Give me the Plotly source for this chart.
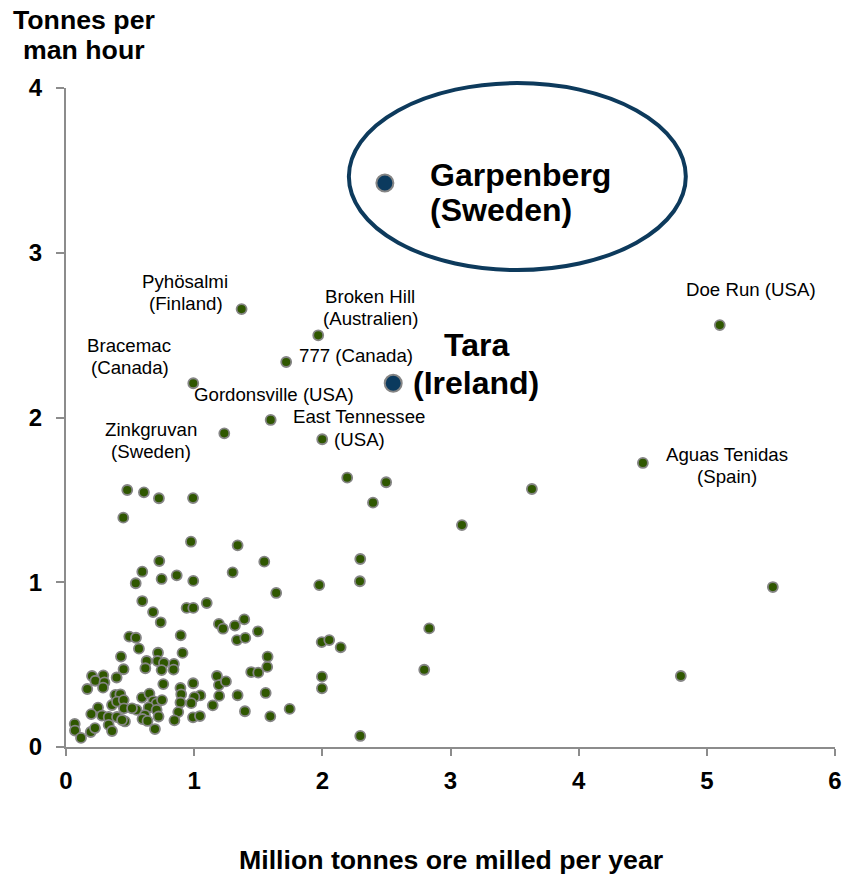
import plotly.graph_objects as go

# ---------------- data ----------------
# unlabelled mines: million tonnes ore milled per year (x) and tonnes per man hour (y)
other_x = [0.478, 0.608, 0.725, 0.991, 0.447, 0.975, 1.339, 0.728, 0.595, 0.544,
           0.746, 0.864, 0.993, 1.300, 0.595, 1.098, 0.941, 0.993, 0.679, 0.739,
           1.193, 1.225, 1.318, 1.391, 1.498, 1.334, 1.399, 0.494, 0.546, 0.895,
           0.569, 0.718, 0.909, 0.429, 0.629, 0.714, 0.764, 0.842, 0.619, 0.746,
           0.839, 0.449, 0.203, 0.291, 0.395, 0.229, 0.300, 0.166, 0.289, 0.759,
           0.992, 1.178, 1.193, 1.248, 0.893, 0.899, 1.048, 1.002, 0.893, 0.977,
           1.195, 1.145, 1.339, 0.593, 0.651, 0.681, 0.707, 0.749, 0.645, 0.707,
           0.722, 0.876, 0.846, 0.991, 1.045, 0.694, 0.551, 0.616, 0.597, 0.636,
           0.460, 0.385, 0.424, 0.359, 0.398, 0.450, 0.452, 0.515, 0.250, 0.197,
           0.281, 0.333, 0.398, 0.437, 0.333, 0.359, 0.068, 0.070, 0.117, 0.193,
           0.226, 1.547, 1.640, 1.976, 2.296, 2.293, 2.194, 2.498, 2.395, 1.995,
           2.054, 2.143, 1.573, 1.570, 1.445, 1.500, 1.997, 1.997, 1.558, 1.396,
           1.594, 1.745, 2.296, 2.795, 2.834, 3.635, 3.089, 5.515, 4.797]
other_y = [1.560, 1.546, 1.510, 1.511, 1.392, 1.246, 1.224, 1.129, 1.064, 0.994,
           1.020, 1.042, 1.008, 1.060, 0.886, 0.874, 0.844, 0.844, 0.819, 0.757,
           0.747, 0.718, 0.737, 0.775, 0.702, 0.649, 0.662, 0.670, 0.663, 0.678,
           0.597, 0.572, 0.571, 0.549, 0.522, 0.522, 0.510, 0.504, 0.478, 0.467,
           0.470, 0.472, 0.431, 0.435, 0.422, 0.402, 0.392, 0.352, 0.360, 0.382,
           0.387, 0.431, 0.376, 0.398, 0.358, 0.320, 0.313, 0.303, 0.270, 0.266,
           0.310, 0.253, 0.314, 0.300, 0.324, 0.279, 0.265, 0.285, 0.240, 0.225,
           0.185, 0.212, 0.162, 0.180, 0.188, 0.109, 0.225, 0.194, 0.170, 0.158,
           0.155, 0.316, 0.320, 0.255, 0.275, 0.285, 0.235, 0.235, 0.239, 0.200,
           0.191, 0.182, 0.182, 0.164, 0.134, 0.097, 0.140, 0.100, 0.055, 0.091,
           0.115, 1.125, 0.935, 0.983, 1.141, 1.006, 1.635, 1.607, 1.483, 0.637,
           0.649, 0.605, 0.548, 0.486, 0.455, 0.451, 0.427, 0.356, 0.328, 0.217,
           0.186, 0.231, 0.067, 0.469, 0.720, 1.566, 1.347, 0.971, 0.431]

# labelled peer mines
named_labels = [["Pyhösalmi", "(Finland)"], ["Broken Hill", "(Australien)"],
                ["Bracemac", "(Canada)"], ["777 (Canada)"], ["Gordonsville (USA)"],
                ["East Tennessee", "(USA)"], ["Zinkgruvan", "(Sweden)"],
                ["Doe Run (USA)"], ["Aguas Tenidas", "(Spain)"]]
named_x = [1.370, 1.968, 0.993, 1.718, 1.597, 1.999, 1.235, 5.101, 4.501]
named_y = [2.658, 2.499, 2.208, 2.337, 1.985, 1.868, 1.904, 2.561, 1.724]

# highlighted Boliden mines
focus_labels = [["Garpenberg", "(Sweden)"], ["Tara", "(Ireland)"]]
focus_x = [2.488, 2.553]
focus_y = [3.423, 2.208]

x_ticks = [0, 1, 2, 3, 4, 5, 6]
y_ticks = [0, 1, 2, 3, 4]
y_title_lines = ["Tonnes per", "man hour"]
x_title = "Million tonnes ore milled per year"

# ---------------- styling ----------------
FONT = "Liberation Sans, Arial, sans-serif"
GREEN = "#2f5700"
NAVY = "#0b3a5e"
EDGE = "#858585"
AXIS = "#8c8c8c"

# label line offsets (pixels from the marker centre): per label, list of (dx, dy)
named_offsets = [[(-57, 28), (-56, 6)], [(52, 39), (52, 17)], [(-64, 38), (-63, 16)],
                 [(70, 6)], [(3, 25)], [(37, 23), (37, 0)], [(-73, 4), (-73, -18)],
                 [(31, 36)], [(84, 8), (84, -14)]]
focus_offsets = [[(43, 8), (43, -27)], [(83, 38), (83, 0)]]
focus_anchor = ["left", "center"]

fig = go.Figure()
fig.add_trace(go.Scatter(
    x=other_x, y=other_y, mode="markers", cliponaxis=False, hoverinfo="skip",
    marker=dict(size=10, color=GREEN, line=dict(color=EDGE, width=1.8))))
fig.add_trace(go.Scatter(
    x=named_x, y=named_y, mode="markers", cliponaxis=False, hoverinfo="skip",
    marker=dict(size=10, color=GREEN, line=dict(color=EDGE, width=1.8))))
fig.add_trace(go.Scatter(
    x=focus_x, y=focus_y, mode="markers", cliponaxis=False, hoverinfo="skip",
    marker=dict(size=17, color=NAVY, line=dict(color=EDGE, width=2))))

annotations = []
for lines, offs, xv, yv in zip(named_labels, named_offsets, named_x, named_y):
    for line, (dx, dy) in zip(lines, offs):
        annotations.append(dict(
            x=xv, y=yv, xref="x", yref="y", text=line, showarrow=False,
            xshift=dx, yshift=dy, xanchor="center", yanchor="middle",
            font=dict(family=FONT, size=18.67, color="#000000")))
for lines, offs, anc, xv, yv in zip(focus_labels, focus_offsets, focus_anchor, focus_x, focus_y):
    for line, (dx, dy) in zip(lines, offs):
        annotations.append(dict(
            x=xv, y=yv, xref="x", yref="y", text=line, showarrow=False,
            xshift=dx, yshift=dy, xanchor=anc, yanchor="middle",
            font=dict(family=FONT, size=32, color="#000000", weight="bold")))

# axis titles
for i, line in enumerate(y_title_lines):
    annotations.append(dict(
        x=0.0234, y=1.1030 - i * 0.0455, xref="paper", yref="paper", text=line,
        showarrow=False, xanchor="center", yanchor="middle",
        font=dict(family=FONT, size=26.7, color="#000000", weight="bold")))
annotations.append(dict(
    x=0.5006, y=-0.1715, xref="paper", yref="paper", text=x_title,
    showarrow=False, xanchor="center", yanchor="middle",
    font=dict(family=FONT, size=26.7, color="#000000", weight="bold")))

# highlight ellipse around Garpenberg (data units converted to paper fractions)
ell_x = (2.207, 4.836)
ell_y = (2.895, 4.030)
fig.add_shape(type="circle", xref="paper", yref="paper",
              x0=ell_x[0] / 6, x1=ell_x[1] / 6, y0=ell_y[0] / 4, y1=ell_y[1] / 4,
              line=dict(color="#0d3a5c", width=4), layer="above")

axis_common = dict(
    showline=True, linecolor=AXIS, linewidth=2, showgrid=False, zeroline=False,
    ticks="outside", tickcolor=AXIS, tickwidth=2,
    tickfont=dict(family=FONT, size=24, color="#000000", weight="bold"))

fig.update_layout(
    width=843, height=876,
    margin=dict(l=66, r=8, t=88, b=129, autoexpand=False),
    plot_bgcolor="white", paper_bgcolor="white",
    showlegend=False,
    annotations=annotations,
    xaxis=dict(range=[0, 6], tickvals=x_ticks, ticklen=7, ticklabelstandoff=4, **axis_common),
    yaxis=dict(range=[0, 4], tickvals=y_ticks, ticklen=8, ticklabelstandoff=9, **axis_common),
)

fig.write_html("out.html", config={"displayModeBar": False},
               post_script="document.body.style.margin='0px';document.body.style.padding='0px';")
